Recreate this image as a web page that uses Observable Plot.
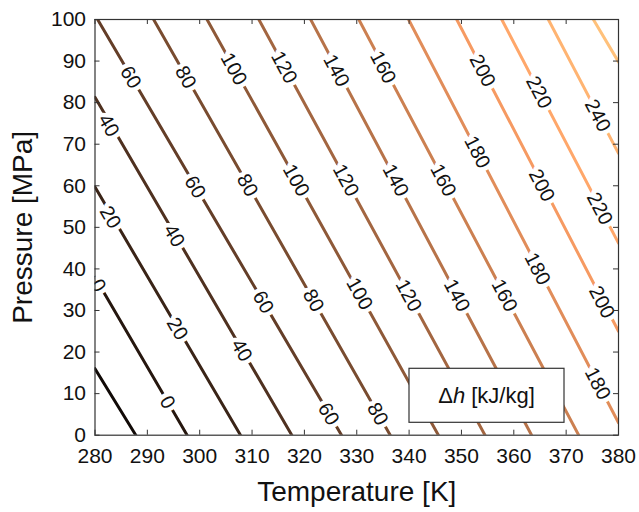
<!DOCTYPE html>
<html><head><meta charset="utf-8">
<script src="https://cdn.jsdelivr.net/npm/d3@7"></script>
<script src="https://cdn.jsdelivr.net/npm/@observablehq/plot@0.6"></script>
<style>
body{margin:0;background:#fff;}
#chart{width:639px;height:512px;}
</style></head><body><div id="chart"></div>
<script>
// Contour levels of Δh [kJ/kg]
const levels = [-20, 0, 20, 40, 60, 80, 100, 120, 140, 160, 180, 200, 220, 240, 260];
// upper-left end of each contour line (Temperature K, Pressure MPa)
const startT = [280, 280, 280, 280, 280.5, 291.2, 301.4, 311.3, 321.2, 330.4, 339.9, 349.1, 357.7, 366.6, 375.2];
const startP = [16.0, 38.0, 59.7, 81.3, 100, 100, 100, 100, 100, 100, 100, 100, 100, 100, 100];
// lower-right end of each contour line
const endT = [287.8, 297.6, 307.8, 317.6, 327.1, 336.4, 345.6, 354.5, 363.4, 372.4, 380, 380, 380, 380, 380];
const endP = [0, 0, 0, 0, 0, 0, 0, 0, 0, 0, 3.0, 25.0, 46.2, 67.8, 89.8];

// inline contour labels
const labelLevel = [60, 80, 100, 120, 140, 160, 200, 220, 240,
                    40, 20, 0,
                    60, 80, 100, 120, 140, 160, 180, 200, 220,
                    40, 60, 80, 100, 120, 140, 160, 180, 200,
                    20, 40, 0, 60, 80, 180];
const labelT = [286.8, 297.3, 306.5, 316.1, 326.1, 335.0, 354.0, 364.8, 376.0,
                282.6, 282.9, 280.6,
                299.1, 309.1, 318.4, 327.9, 337.4, 346.5, 353.0, 365.3, 376.4,
                295.1, 312.1, 321.7, 330.5, 339.9, 349.1, 358.2, 364.5, 376.8,
                295.7, 308.0, 293.8, 324.6, 334.0, 376.0];
const labelP = [86.1, 86.1, 88.1, 88.5, 87.7, 88.5, 87.7, 82.5, 76.9,
                74.5, 52.4, 36.0,
                59.7, 60.1, 61.3, 61.3, 61.3, 61.3, 68.1, 60.1, 54.5,
                48.0, 32.0, 32.4, 34.0, 33.6, 33.6, 33.6, 40.0, 32.0,
                25.6, 20.4, 7.9, 5.1, 5.1, 12.4];

const xTicks = [280, 290, 300, 310, 320, 330, 340, 350, 360, 370, 380];
const yTicks = [0, 10, 20, 30, 40, 50, 60, 70, 80, 90, 100];
const xTitle = "Temperature [K]";
const yTitle = "Pressure [MPa]";

const W = 639, H = 512, mL = 94.5, mR = 21, mT = 19, mB = 77.3;
const fw = W - mL - mR, fh = H - mT - mB;
const kx = fw / (380 - 280), ky = fh / (100 - 0);

const rows = levels.flatMap((v, i) => [
  {level: v, T: startT[i], P: startP[i]},
  {level: v, T: endT[i], P: endP[i]}
]);
const angleOf = (v) => {
  const i = levels.indexOf(v);
  return Math.atan2((startP[i] - endP[i]) * ky, (endT[i] - startT[i]) * kx) * 180 / Math.PI;
};
const labels = labelLevel.map((v, i) => ({level: v, T: labelT[i], P: labelP[i], rot: angleOf(v)}));

// MATLAB "copper" colormap
const copper = t => `rgb(${Math.round(Math.min(255, 318.75 * t))},${Math.round(199.2 * t)},${Math.round(126.9 * t)})`;

function legendBox(index, scales, values, dims) {
  const bw = 155, bh = 54;
  const x0 = dims.width - dims.marginRight - 54 - bw;
  const y0 = dims.height - dims.marginBottom - 12.4 - bh;
  const g = d3.create("svg:g");
  g.append("rect").attr("x", x0).attr("y", y0).attr("width", bw).attr("height", bh)
    .attr("fill", "white").attr("stroke", "#333").attr("stroke-width", 1.2);
  const t = g.append("text").attr("x", x0 + bw / 2).attr("y", y0 + bh / 2)
    .attr("text-anchor", "middle").attr("dy", "0.36em").attr("font-size", 22).attr("fill", "#111");
  t.append("tspan").text("Δ");
  t.append("tspan").attr("font-style", "italic").text("h");
  t.append("tspan").text(" [kJ/kg]");
  return g.node();
}

const chart = Plot.plot({
  width: W, height: H,
  marginLeft: mL, marginRight: mR, marginTop: mT, marginBottom: mB,
  style: {fontSize: "21px", fontFamily: "'Liberation Sans', Arial, sans-serif", color: "#111", background: "white"},
  x: {domain: [280, 380], ticks: xTicks, tickSize: 0, tickPadding: 13, label: null},
  y: {domain: [0, 100], ticks: yTicks, tickSize: 0, tickPadding: 9, label: null},
  color: {type: "linear", domain: [-36, 270], interpolate: copper},
  marks: [
    Plot.line(rows, {x: "T", y: "P", z: "level", stroke: "level", strokeWidth: 3, clip: true}),
    Plot.text(labels, {x: "T", y: "P", text: d => String(d.level), rotate: "rot",
      fill: "#111", stroke: "white", strokeWidth: 9, paintOrder: "stroke", fontSize: 20, clip: true}),
    Plot.tickX(xTicks, {x: d => d, insetTop: fh - 5, stroke: "#333"}),
    Plot.tickX(xTicks, {x: d => d, insetBottom: fh - 5, stroke: "#333"}),
    Plot.tickY(yTicks, {y: d => d, insetRight: fw - 5, stroke: "#333"}),
    Plot.tickY(yTicks, {y: d => d, insetLeft: fw - 5, stroke: "#333"}),
    legendBox,
    Plot.frame({stroke: "#333", strokeWidth: 1.2}),
    Plot.text([xTitle], {text: d => d, frameAnchor: "bottom", lineAnchor: "middle", textAnchor: "middle", dy: 57, fontSize: 28, fill: "#111"}),
    Plot.text([yTitle], {text: d => d, frameAnchor: "left", lineAnchor: "middle", textAnchor: "middle", rotate: -90, dx: -72, fontSize: 28, fill: "#111"})
  ]
});
document.getElementById("chart").append(chart);
</script>
</body></html>
